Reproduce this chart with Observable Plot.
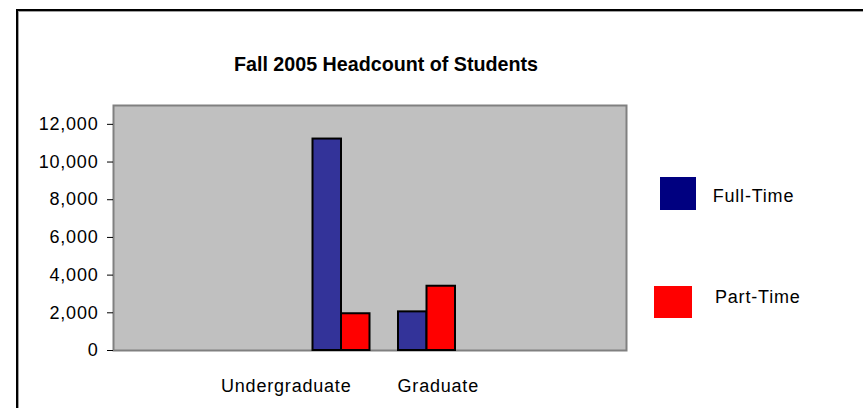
<!DOCTYPE html>
<html><head><meta charset="utf-8">
<script src="https://cdn.jsdelivr.net/npm/d3@7"></script>
<script src="https://cdn.jsdelivr.net/npm/@observablehq/plot@0.6"></script>
<style>
html,body{margin:0;padding:0;background:#fff;overflow:hidden;width:863px;height:408px;}
#wrap{position:relative;width:863px;height:408px;font-family:"Liberation Sans",Arial,sans-serif;overflow:hidden;}
#border{position:absolute;left:15.5px;top:8.5px;width:900px;height:450px;border:2px solid #000;box-shadow:inset 1px 1px 0 #a0a0a0;}
#chart{position:absolute;left:0;top:0;}
#title{position:absolute;left:0;top:55px;width:772px;text-align:center;font-weight:bold;font-size:19.7px;line-height:19.7px;color:#000;white-space:nowrap;}
.sw{position:absolute;}
.lt{position:absolute;font-size:18px;line-height:18px;letter-spacing:0.8px;color:#000;white-space:nowrap;}
</style></head>
<body>
<div id="wrap">
  <div id="border"></div>
  <div id="chart"></div>
  <div id="title"></div>
  <div id="legend"></div>
</div>
<script>
const titleText = "Fall 2005 Headcount of Students";
const categories = ["Undergraduate", "Graduate"];
const slots = ["blank1", "blank2", "Undergraduate", "Graduate", "blank3", "blank4"];
const series = ["Full-Time", "Part-Time"];
const fullTime = [11220, 2050];
const partTime = [1950, 3410];
const yTicks = [0, 2000, 4000, 6000, 8000, 10000, 12000];
const barColors = ["#333399", "#FF0000"];
const legendColors = ["#000080", "#FF0000"];

const ftData = categories.map((c, i) => ({category: c, series: series[0], value: fullTime[i]}));
const ptData = categories.map((c, i) => ({category: c, series: series[1], value: partTime[i]}));

const chart = Plot.plot({
  width: 863, height: 408,
  marginLeft: 113, marginRight: 237, marginTop: 105, marginBottom: 58,
  x: {type: "band", domain: slots, paddingInner: 0, paddingOuter: 0, round: false},
  y: {domain: [0, 13000]},
  style: {fontFamily: "Liberation Sans, Arial, sans-serif", fontSize: "18px", letterSpacing: "0.8px", color: "#000", background: "transparent", overflow: "visible"},
  marks: [
    Plot.frame({fill: "#c0c0c0", stroke: "#808080", strokeWidth: 2}),
    Plot.barY(ftData, {x: "category", y: "value", fill: barColors[0], stroke: "#000", strokeWidth: 2, insetLeft: 28.5, insetRight: 28.5}),
    Plot.barY(ptData, {x: "category", y: "value", fill: barColors[1], stroke: "#000", strokeWidth: 2, insetLeft: 57, insetRight: 0}),
    Plot.axisY({ticks: yTicks, tickFormat: d3.format(","), tickSize: 6, tickPadding: 9, label: null, stroke: "#000", fill: "#000"}),
    Plot.axisX({ticks: [categories[0]], tickSize: 0, tickPadding: 29, dx: -41, label: null, fill: "#000"}),
    Plot.axisX({ticks: [categories[1]], tickSize: 0, tickPadding: 29, dx: 25.5, label: null, fill: "#000"})
  ]
});
document.getElementById("chart").appendChild(chart);
document.getElementById("title").textContent = titleText;

const legendLayout = [
  {sw: {left: 660, top: 177, w: 36, h: 33}, txt: {left: 712.7, top: 186.5}},
  {sw: {left: 654, top: 286, w: 38, h: 32}, txt: {left: 715, top: 287.8}}
];
const legend = document.getElementById("legend");
series.forEach((s, i) => {
  const L = legendLayout[i];
  const sw = document.createElement("div");
  sw.className = "sw";
  Object.assign(sw.style, {left: L.sw.left + "px", top: L.sw.top + "px", width: L.sw.w + "px", height: L.sw.h + "px", background: legendColors[i]});
  legend.appendChild(sw);
  const t = document.createElement("div");
  t.className = "lt";
  Object.assign(t.style, {left: L.txt.left + "px", top: L.txt.top + "px"});
  t.textContent = s;
  legend.appendChild(t);
});
</script>
</body></html>
